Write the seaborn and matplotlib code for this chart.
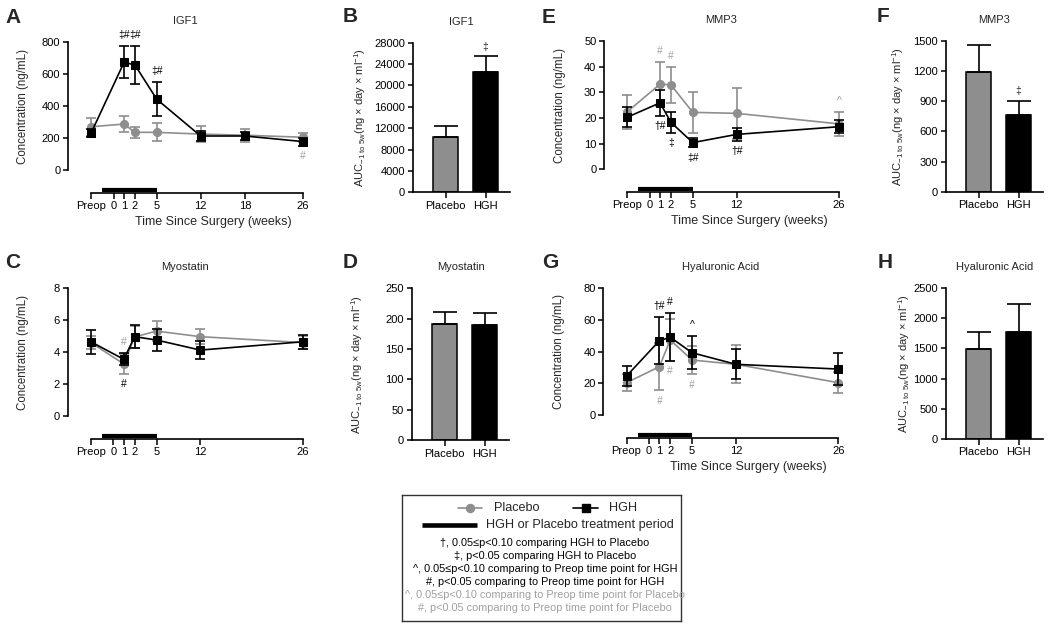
import numpy as np
import matplotlib
matplotlib.use("Agg")
import matplotlib.pyplot as plt
import seaborn as sns

sns.set_style("ticks")
plt.rcParams["font.family"] = ["Liberation Sans", "DejaVu Sans"]
plt.rcParams["mathtext.fontset"] = "custom"
plt.rcParams["mathtext.rm"] = "Liberation Sans"
plt.rcParams["mathtext.it"] = "Liberation Sans:italic"

GRAY = "#8e8e8e"
LIGHT = "#a0a0a0"
W, H = 1050, 626

# Time axis (Preop drawn at week -1), the original uses an uneven axis
WEEK_AXIS = [-5, -1, 0, 1, 2, 5, 12, 18, 26, 40]
POS_AXIS = [-112.0, -22.4, 0.0, 10.5, 21.3, 43.2, 87.0, 131.3, 189.5, 291.4]
TREATMENT = [-0.5, 5]

TICKS_ALL = ["Preop", "0", "1", "2", "5", "12", "18", "26"]
TICKS_NO18 = ["Preop", "0", "1", "2", "5", "12", "26"]

# IGF1 (ng/mL)
IGF1_WEEKS = [-1, 1, 2, 5, 12, 18, 26]
IGF1_PLACEBO = [271, 288, 236, 236, 225, 218, 205]
IGF1_PLACEBO_ERR = [55, 52, 36, 56, 52, 40, 28]
IGF1_HGH = [233, 675, 658, 443, 213, 213, 178]
IGF1_HGH_ERR = [25, 100, 120, 107, 33, 25, 25]
IGF1_MARKS = [(1, "‡#", "HGH", "above"), (2, "‡#", "HGH", "above"),
              (5, "‡#", "HGH", "above"), (26, "#", "Placebo", "below")]

# MMP3 (ng/mL)
MMP3_WEEKS = [-1, 1, 2, 5, 12, 26]
MMP3_PLACEBO = [22.4, 33.2, 32.9, 22.2, 21.8, 17.7]
MMP3_PLACEBO_ERR = [6.5, 8.7, 7.1, 8.0, 10.0, 4.7]
MMP3_HGH = [20.3, 25.9, 18.3, 10.4, 13.6, 16.6]
MMP3_HGH_ERR = [3.8, 5.0, 4.0, 1.9, 2.4, 2.5]
MMP3_MARKS = [(1, "#", "Placebo", "above"), (2, "#", "Placebo", "above"),
              (26, "^", "Placebo", "above"), (1, "†#", "HGH", "below"),
              (2, "‡", "HGH", "below"), (5, "‡#", "HGH", "below"),
              (12, "†#", "HGH", "below")]

# Myostatin (ng/mL)
MYO_WEEKS = [-1, 1, 2, 5, 12, 26]
MYO_PLACEBO = [4.6, 3.26, 4.95, 5.32, 4.97, 4.6]
MYO_PLACEBO_ERR = [0.4, 0.6, 0.7, 0.65, 0.48, 0.4]
MYO_HGH = [4.65, 3.55, 4.97, 4.76, 4.13, 4.65]
MYO_HGH_ERR = [0.75, 0.38, 0.73, 0.7, 0.55, 0.45]
MYO_MARKS = [(1, "#", "Placebo", "above"), (1, "#", "HGH", "below")]

# Hyaluronic acid (ng/mL)
HA_WEEKS = [-1, 1, 2, 5, 12, 26]
HA_PLACEBO = [20.4, 30.5, 47.4, 34.7, 32.0, 20.4]
HA_PLACEBO_ERR = [5.5, 15.0, 13.0, 9.0, 12.0, 6.7]
HA_HGH = [24.6, 46.9, 49.1, 39.3, 32.0, 29.0]
HA_HGH_ERR = [6.4, 15.0, 15.0, 10.5, 9.5, 10.0]
HA_MARKS = [(1, "†#", "HGH", "above"), (2, "#", "HGH", "above"),
            (5, "^", "HGH", "above"), (1, "#", "Placebo", "below"),
            (2, "#", "Placebo", "below"), (5, "#", "Placebo", "below")]

# AUC -1 to 5 weeks
GROUPS = ["Placebo", "HGH"]
IGF1_AUC = [10400, 22500]
IGF1_AUC_ERR = [2000, 2950]
MYO_AUC = [191, 189]
MYO_AUC_ERR = [20, 21]
MMP3_AUC = [1188, 763]
MMP3_AUC_ERR = [272, 143]
HA_AUC = [1490, 1767]
HA_AUC_ERR = [277, 478]

COLORS = {"Placebo": GRAY, "HGH": "black"}
MARK_COLORS = {"Placebo": LIGHT, "HGH": "black"}
AUC_LABEL = r"AUC$_{\mathregular{-1\ to\ 5w}}$(ng × day × ml$^{\mathregular{-1}}$)"

fig = plt.figure(figsize=(W / 100, H / 100), dpi=100)


def px_axes(left, top, width, height):
    return fig.add_axes([left / W, 1 - (top + height) / H, width / W, height / H])


def xpos(weeks):
    return np.interp(weeks, WEEK_AXIS, POS_AXIS)


def style_axis(ax):
    for side in ["left", "bottom"]:
        ax.spines[side].set_linewidth(1.2)
        ax.spines[side].set_color("black")
    sns.despine(ax=ax)
    ax.tick_params(axis="both", direction="out", length=3.5, width=1.1,
                   labelsize=8, pad=2, colors="black")


def line_panel(left, top, zero, weeks, pla, pla_err, hgh, hgh_err,
               ymax, ystep, ticks, title, marks, xlabel=True):
    x0 = xpos(-1) - 23.2
    x1 = xpos(26)
    width = x1 - x0
    offset = 22.5
    height = zero - top + offset
    ax = px_axes(left, top, width, height)
    ylo = -offset * ymax / (zero - top)
    x = xpos(weeks)

    series = {"Placebo": (np.array(pla), np.array(pla_err)),
              "HGH": (np.array(hgh), np.array(hgh_err))}
    for i, (name, marker, ms) in enumerate([("Placebo", "o", 5.8), ("HGH", "s", 5.5)]):
        vals, errs = series[name]
        c = COLORS[name]
        eb = ax.errorbar(x, vals, yerr=errs, fmt="none", ecolor=c, elinewidth=1.2,
                         capsize=3.6, capthick=1.2, zorder=2 + 2 * i)
        for art in list(eb[1]) + list(eb[2]):
            art.set_clip_on(False)
        sns.lineplot(x=x, y=vals, ax=ax, color=c, marker=marker, markersize=ms,
                     markeredgecolor=c, linewidth=1.2, zorder=3 + 2 * i, clip_on=False)

    # treatment period bar
    ax.plot(xpos(TREATMENT), [3.0 / height] * 2, transform=ax.get_xaxis_transform(),
            color="black", lw=3.0, solid_capstyle="butt", clip_on=False)

    # significance marks
    for wk, sym, grp, where in marks:
        hits = [(series[g][0][weeks.index(wk)], series[g][1][weeks.index(wk)]) for g in series]
        if where == "above":
            yv = max(v + e for v, e in hits)
            dy = 8
        else:
            yv = min(v - e for v, e in hits)
            dy = -7.5
        ax.annotate(sym, xy=(xpos(wk), yv), xytext=(0, dy), textcoords="offset points",
                    ha="center", va="center", fontsize=7.5, color=MARK_COLORS[grp])

    ax.set_xlim(x0, x1)
    ax.set_ylim(ylo, ymax)
    style_axis(ax)
    ax.spines["left"].set_bounds(0, ymax)
    ax.spines["bottom"].set_bounds(xpos(-1), xpos(26))
    ax.set_yticks(np.arange(0, ymax + ystep / 2, ystep))
    tick_weeks = [-1 if t == "Preop" else int(t) for t in ticks]
    ax.set_xticks(xpos(tick_weeks))
    ax.set_xticklabels(ticks)
    ax.tick_params(axis="x", length=4.2)
    ax.set_ylabel("Concentration (ng/mL)", fontsize=8.3)
    ax.yaxis.set_label_coords(-38.5 / width, (ymax / 2 - ylo) / (ymax - ylo))
    if xlabel:
        ax.set_xlabel("Time Since Surgery (weeks)", fontsize=9)
        ax.xaxis.set_label_coords((213 - 68) / width, -23.5 / height)
    else:
        ax.set_xlabel("")
    ax.set_title(title, fontsize=8, pad=13)
    return ax


def bar_panel(left, top, bottom, vals, errs, ymax, ystep, title, label_dx, mark=None):
    xl = (-0.82, 1.62)
    width = (xl[1] - xl[0]) * 40
    height = bottom - top
    ax = px_axes(left, top, width, height)
    sns.barplot(x=GROUPS, y=vals, hue=GROUPS, palette=[GRAY, "black"], legend=False,
                width=0.62, edgecolor="black", linewidth=1.1, saturation=1,
                errorbar=None, ax=ax)
    ax.errorbar([0, 1], vals, yerr=[[0, 0], errs], fmt="none", ecolor="black",
                elinewidth=1.2, capsize=8.3, capthick=1.2, zorder=5)
    if mark:
        i = GROUPS.index(mark[1])
        ax.annotate(mark[0], xy=(i, vals[i] + errs[i]), xytext=(0, 7),
                    textcoords="offset points", ha="center", va="center", fontsize=7.5)
    ax.set_xlim(*xl)
    ax.set_ylim(0, ymax)
    style_axis(ax)
    ax.set_yticks(np.arange(0, ymax + ystep / 2, ystep))
    ax.tick_params(axis="x", length=4.2)
    ax.set_xlabel("")
    ax.set_ylabel(AUC_LABEL, fontsize=8)
    ax.yaxis.set_label_coords(-label_dx / width, 0.5)
    ax.set_title(title, fontsize=8, pad=13)
    return ax


line_panel(68, 42.3, 170, IGF1_WEEKS, IGF1_PLACEBO, IGF1_PLACEBO_ERR, IGF1_HGH,
           IGF1_HGH_ERR, 800, 200, TICKS_ALL, "IGF1", IGF1_MARKS)
line_panel(604, 41, 169.3, MMP3_WEEKS, MMP3_PLACEBO, MMP3_PLACEBO_ERR, MMP3_HGH,
           MMP3_HGH_ERR, 50, 10, TICKS_NO18, "MMP3", MMP3_MARKS)
line_panel(67.7, 288.3, 416, MYO_WEEKS, MYO_PLACEBO, MYO_PLACEBO_ERR, MYO_HGH,
           MYO_HGH_ERR, 8, 2, TICKS_NO18, "Myostatin", MYO_MARKS, xlabel=False)
line_panel(603.3, 288.3, 415, HA_WEEKS, HA_PLACEBO, HA_PLACEBO_ERR, HA_HGH,
           HA_HGH_ERR, 80, 20, TICKS_NO18, "Hyaluronic Acid", HA_MARKS)

bar_panel(412.7, 42.7, 192.3, IGF1_AUC, IGF1_AUC_ERR, 28000, 4000, "IGF1", 44.4, ("‡", "HGH"))
bar_panel(411.7, 288.3, 440, MYO_AUC, MYO_AUC_ERR, 250, 50, "Myostatin", 46.7)
bar_panel(945.7, 41, 191.7, MMP3_AUC, MMP3_AUC_ERR, 1500, 300, "MMP3", 40, ("‡", "HGH"))
bar_panel(945.7, 288.3, 438.7, HA_AUC, HA_AUC_ERR, 2500, 500, "Hyaluronic Acid", 33.4)

# panel letters
for letter, lx, ly in [("A", 5, 8), ("B", 342.7, 7), ("E", 541.7, 8), ("F", 876.7, 7),
                       ("C", 5, 253), ("D", 342.7, 253), ("G", 541.7, 253), ("H", 877.7, 253)]:
    fig.text(lx / W, 1 - ly / H, letter, fontsize=15, fontweight="bold", va="top", ha="left")

# legend box
lg = px_axes(401.7, 495, 279.3, 125.7)
lg.set_xlim(401.7, 681)
lg.set_ylim(620.7, 495)
lg.set_xticks([])
lg.set_yticks([])
for s in lg.spines.values():
    s.set_visible(True)
    s.set_linewidth(1.0)
    s.set_color("#333333")
lg.plot([458, 469.9, 481.7], [508.3] * 3, color=GRAY, lw=1.2, marker="o", ms=5.8,
        markevery=[1])
lg.text(494.3, 508.3, "Placebo", fontsize=9.1, va="center", ha="left")
lg.plot([573.3, 585.8, 598.3], [508.3] * 3, color="black", lw=1.2, marker="s", ms=5.5,
        markevery=[1])
lg.text(609.3, 508.3, "HGH", fontsize=9.1, va="center", ha="left")
lg.plot([421.7, 476.7], [525, 525], color="black", lw=3.3, solid_capstyle="butt")
lg.text(486, 525, "HGH or Placebo treatment period", fontsize=9.1, va="center", ha="left")

NOTES = [("†, 0.05≤p<0.10 comparing HGH to Placebo", "black"),
         ("‡, p<0.05 comparing HGH to Placebo", "black"),
         ("^, 0.05≤p<0.10 comparing to Preop time point for HGH", "black"),
         ("#, p<0.05 comparing to Preop time point for HGH", "black"),
         ("^, 0.05≤p<0.10 comparing to Preop time point for Placebo", LIGHT),
         ("#, p<0.05 comparing to Preop time point for Placebo", LIGHT)]
for i, (txt, c) in enumerate(NOTES):
    lg.text(545, 543.3 + i * 12.9, txt, fontsize=7.8, va="center", ha="center", color=c)

fig.savefig("out.png", dpi=100)
